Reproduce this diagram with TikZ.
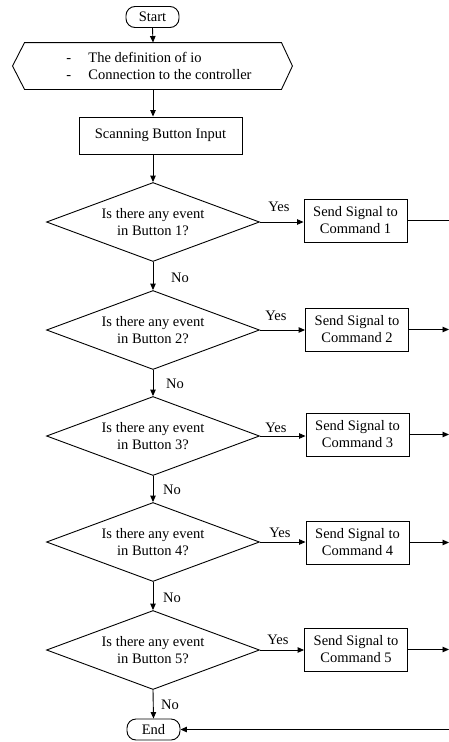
\documentclass[tikz,border=0pt]{standalone}
\usepackage{fontspec}
\setmainfont{Liberation Serif}
\usetikzlibrary{shapes.geometric,arrows.meta,calc}
\begin{document}
\begin{tikzpicture}[x=1pt,y=-1pt,
  font=\fontsize{14.5}{17}\selectfont,
  line width=0.9pt,
  arr/.style={-{Triangle[length=6.5pt,width=5.5pt]}},
  term/.style={draw, rounded corners=9pt, minimum width=53pt, minimum height=21pt, inner sep=0pt},
  proc/.style={draw, minimum width=103pt, minimum height=43pt, inner sep=0pt, align=center},
  dec/.style={draw, diamond, aspect=2.7, inner sep=0pt, minimum width=213pt, minimum height=79pt, align=center},
  lbl/.style={inner sep=0pt}]
\useasboundingbox (0,0) rectangle (449,742);

\node[term] (start) at (152.5,17) {Start};
\node[inner sep=0pt, minimum width=256pt, minimum height=46pt, align=left] (init) at (153,66)
  {\hspace*{12pt}\makebox[22pt][l]{-}The definition of io\\\hspace*{12pt}\makebox[22pt][l]{-}Connection to the controller};
\draw (init.north west) -- (init.north east) -- ($(init.east)+(11,0)$) -- (init.south east)
  -- (init.south west) -- ($(init.west)+(-12,0)$) -- cycle;
\node[draw, minimum width=163pt, minimum height=37pt, inner sep=0pt] (scan) at (160.5,135.5) {Scanning Button Input};

\node[dec] (d1) at (153,222) {Is there any event\\in Button 1?};
\node[dec] (d2) at (153,330) {Is there any event\\in Button 2?};
\node[dec] (d3) at (153,436) {Is there any event\\in Button 3?};
\node[dec] (d4) at (153,542) {Is there any event\\in Button 4?};
\node[dec] (d5) at (153,650) {Is there any event\\in Button 5?};

\node[proc] (b1) at (355.5,220.5) {Send Signal to\\Command 1};
\node[proc] (b2) at (357,329.5) {Send Signal to\\Command 2};
\node[proc] (b3) at (357.5,434.5) {Send Signal to\\Command 3};
\node[proc] (b4) at (357.5,542.5) {Send Signal to\\Command 4};
\node[proc] (b5) at (356,649.5) {Send Signal to\\Command 5};

\node[term] (end) at (153.5,729.5) {End};

\coordinate (o1) at (449,220.5);
\coordinate (o2) at (449,329.5);
\coordinate (o3) at (449,434.5);
\coordinate (o4) at (449,542.5);
\coordinate (o5) at (449,649.5);
\coordinate (ret) at (449,729.5);

% vertical flow
\draw[arr] (start.south) -- (init.north);
\draw[arr] (init.south) -- (init.south |- scan.north);
\draw[arr] (scan.south -| d1.north) -- (d1.north);
\draw[arr] (d1.south) -- (d2.north);
\draw[arr] (d2.south) -- (d3.north);
\draw[arr] (d3.south) -- (d4.north);
\draw[arr] (d4.south) -- (d5.north);
\draw[arr] (d5.south) -- (end.north);

% yes branches
\draw[arr] (d1.east) -- (d1.east -| b1.west);
\draw[arr] (d2.east) -- (d2.east -| b2.west);
\draw[arr] (d3.east) -- (d3.east -| b3.west);
\draw[arr] (d4.east) -- (d4.east -| b4.west);
\draw[arr] (d5.east) -- (d5.east -| b5.west);

% outputs
\draw (b1.east) -- (o1);
\draw[arr] (b2.east) -- (o2);
\draw[arr] (b3.east) -- (o3);
\draw[arr] (b4.east) -- (o4);
\draw[arr] (b5.east) -- (o5);
\draw[arr] (ret) -- (end.east);

% labels
\node[lbl] (y1) at (279,207) {Yes};
\node[lbl] (y2) at (276,316) {Yes};
\node[lbl] (y3) at (276,428) {Yes};
\node[lbl] (y4) at (280,533) {Yes};
\node[lbl] (y5) at (278,640) {Yes};
\node[lbl] (n1) at (180,278) {No};
\node[lbl] (n2) at (175,384) {No};
\node[lbl] (n3) at (172,490) {No};
\node[lbl] (n4) at (172,598) {No};
\node[lbl] (n5) at (170,705) {No};
\end{tikzpicture}
\end{document}
